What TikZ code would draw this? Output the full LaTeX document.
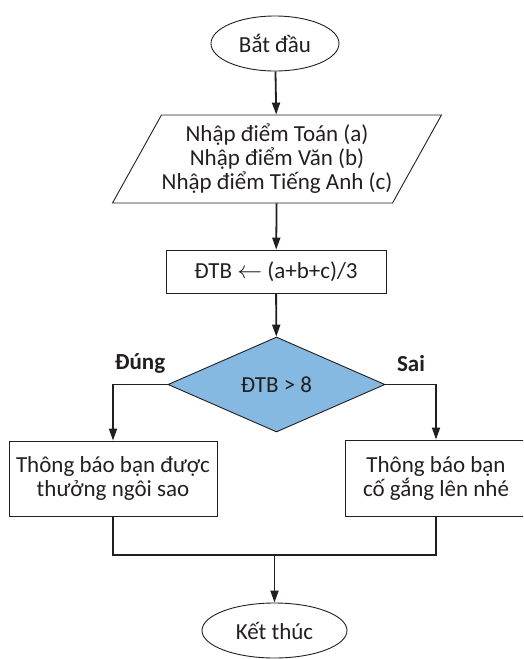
\documentclass[tikz,border=0pt]{standalone}
\usepackage{fontspec}
\setmainfont{Carlito}
\usetikzlibrary{shapes.geometric,arrows.meta,calc}
\definecolor{ink}{RGB}{35,31,32}
\definecolor{dfill}{RGB}{133,185,226}
\tikzset{
  box/.style={draw=ink,line width=0.9pt,rectangle,inner sep=0pt,align=center,text=ink},
  term/.style={draw=ink,line width=0.9pt,ellipse,inner sep=0pt,align=center,text=ink},
  conn/.style={draw=ink,line width=1.8pt,-{Triangle[length=12pt,width=8pt]}},
  line/.style={draw=ink,line width=1.8pt},
  lbl/.style={font=\bfseries\fontsize{23}{24}\selectfont,text=ink,inner sep=0pt}
}
\begin{document}
\begin{tikzpicture}[x=1pt,y=-1pt,font=\fontsize{23}{24}\selectfont]
\useasboundingbox (0,0) rectangle (523,659);
\begin{scope}
\clip (0,0) rectangle (523,659);
\node[term,minimum width=128pt,minimum height=55pt] (S) at (275,43.5) {Bắt đầu};
\node[box,trapezium,trapezium left angle=55,trapezium right angle=125,trapezium stretches=true,minimum width=330pt,minimum height=88pt] (P) at (277,159) {Nhập điểm Toán (a)\\Nhập điểm Văn (b)\\Nhập điểm Tiếng Anh (c)};
\node[box,minimum width=220pt,minimum height=43pt] (R) at (276,271.5) {ĐTB $\leftarrow$ (a+b+c)/3};
\node[box,diamond,fill=dfill,minimum width=217pt,minimum height=95pt] (D) at (276.5,384.5) {ĐTB > 8};
\node[box,minimum width=208pt,minimum height=75pt] (L) at (113,478.5) {Thông báo bạn được\\thưởng ngôi sao};
\node[box,minimum width=182pt,minimum height=76pt] (Q) at (436,478) {Thông báo bạn\\cố gắng lên nhé};
\node[term,minimum width=145pt,minimum height=55pt] (E) at (274.5,630.5) {Kết thúc};
\coordinate (J) at (274.5,555);
\node[lbl] (T) at (140,364) {Đúng};
\node[lbl] (F) at (411,364) {Sai};
\draw[conn] (S) -- (P);
\draw[conn] (P) -- (R);
\draw[conn] (R) -- (D);
\draw[conn] (D.west) -| (L.north);
\draw[conn] (D.east) -| (Q.north);
\draw[line] (L.south) -- (L.south |- J) -- (Q.south |- J) -- (Q.south);
\draw[conn] (J) -- (E.north);
\end{scope}
\end{tikzpicture}
\end{document}
